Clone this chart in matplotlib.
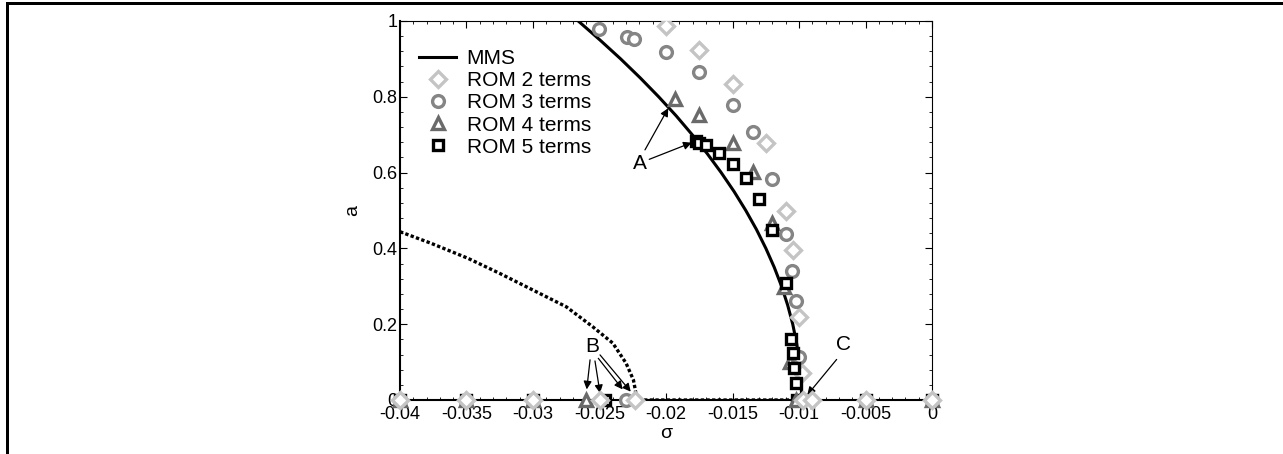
import numpy as np
import matplotlib
matplotlib.use('Agg')
import matplotlib.pyplot as plt
from matplotlib.lines import Line2D
from matplotlib.ticker import MultipleLocator

plt.rcParams['font.family'] = ['Liberation Sans', 'DejaVu Sans']

# MMS backbone (solid, stable)
mms_sigma = [-0.0098, -0.00984, -0.00997, -0.01018, -0.01047, -0.01085, -0.01131, -0.01186,
             -0.01249, -0.01320, -0.01400, -0.01488, -0.01585, -0.01690, -0.01803,
             -0.01924, -0.02055, -0.02194, -0.02341, -0.02497, -0.02660]
mms_a = [0.0, 0.05, 0.1, 0.15, 0.2, 0.25, 0.3, 0.35, 0.4, 0.45, 0.5, 0.55, 0.6, 0.65,
         0.7, 0.75, 0.8, 0.85, 0.9, 0.95, 1.0]

# unstable branch (dotted)
unst_sigma = [-0.0400, -0.0377, -0.0349, -0.0325, -0.0300, -0.0275, -0.0255, -0.0240,
              -0.0230, -0.02245, -0.0223, -0.0222, -0.0160, -0.0098]
unst_a = [0.444, 0.414, 0.374, 0.334, 0.290, 0.246, 0.193, 0.150, 0.097, 0.053, 0.025,
          0.0, 0.0, 0.0]

# ROM results
rom2_sigma = [-0.0200, -0.0175, -0.01498, -0.01248, -0.01098, -0.01047, -0.00998, -0.0098]
rom2_a = [0.987, 0.923, 0.833, 0.677, 0.499, 0.396, 0.220, 0.070]
rom3_sigma = [-0.02502, -0.02295, -0.02241, -0.0200, -0.0175, -0.01498, -0.01348, -0.01203,
              -0.01098, -0.01053, -0.01023, -0.00998]
rom3_a = [0.979, 0.959, 0.952, 0.917, 0.865, 0.779, 0.706, 0.582, 0.438, 0.340, 0.261, 0.114]
rom4_sigma = [-0.01932, -0.0175, -0.01498, -0.01343, -0.01203, -0.01113, -0.01071]
rom4_a = [0.794, 0.752, 0.677, 0.601, 0.468, 0.298, 0.101]
rom5_sigma = [-0.01774, -0.0175, -0.01699, -0.01599, -0.01498, -0.01398, -0.01298, -0.01203,
              -0.01098, -0.0106, -0.01047, -0.01035, -0.01023]
rom5_a = [0.684, 0.679, 0.673, 0.651, 0.623, 0.587, 0.530, 0.449, 0.309, 0.161, 0.123,
          0.085, 0.044]

# points lying on a = 0
zero_common = [-0.04, -0.035, -0.03, -0.005, 0.0]
rom2_zero = zero_common + [-0.0250, -0.02233, -0.0097, -0.00905]
rom3_zero = zero_common + [-0.0230]
rom4_zero = zero_common + [-0.0260, -0.01023]
rom5_zero = zero_common + [-0.0246, -0.01017]

c2, c3, c4, c5 = '#c4c4c4', '#858585', '#6a6a6a', '#000000'
mk = dict(linestyle='none', markerfacecolor='white', markeredgewidth=2.4)

fig = plt.figure(figsize=(12.83, 4.54), dpi=100)
ax = fig.add_axes([400 / 1283, 1 - 400 / 454, 532 / 1283, 379 / 454])

ax.plot(mms_sigma, mms_a, color='black', lw=2.2, label='MMS', zorder=3)
ax.plot(unst_sigma, unst_a, color='black', lw=2.4, linestyle=(0, (1, 0.7)), zorder=3)

ax.plot(rom2_sigma, rom2_a, marker='D', ms=8, color=c2, label='ROM 2 terms', zorder=4, **mk)
ax.plot(rom3_sigma, rom3_a, marker='o', ms=8.5, color=c3, label='ROM 3 terms', zorder=4, **mk)
ax.plot(rom4_sigma, rom4_a, marker='^', ms=9, color=c4, label='ROM 4 terms', zorder=4, **mk)
ax.plot(rom5_sigma, rom5_a, marker='s', ms=7.5, color=c5, label='ROM 5 terms', zorder=5, **mk)

zeros_kw = dict(clip_on=False, **mk)
ax.plot(rom5_zero, np.zeros(len(rom5_zero)), marker='s', ms=7.5, color=c5, zorder=6, **zeros_kw)
ax.plot(rom4_zero, np.zeros(len(rom4_zero)), marker='^', ms=9, color=c4, zorder=6, **zeros_kw)
ax.plot(rom3_zero, np.zeros(len(rom3_zero)), marker='o', ms=8.5, color=c3, zorder=6, **zeros_kw)
ax.plot(rom2_zero, np.zeros(len(rom2_zero)), marker='D', ms=8, color=c2, zorder=7, **zeros_kw)

# annotations
arr = dict(arrowstyle='-|>', color='black', lw=0.9, mutation_scale=12, shrinkA=0, shrinkB=0)
ax.text(-0.02195, 0.625, 'A', fontsize=15, ha='center', va='center')
ax.annotate('', xy=(-0.01983, 0.770), xytext=(-0.02158, 0.660), arrowprops=arr)
ax.annotate('', xy=(-0.01807, 0.679), xytext=(-0.02126, 0.635), arrowprops=arr)

ax.text(-0.02554, 0.140, 'B', fontsize=15, ha='center', va='center')
for tx, ty, hx, hy in [(-0.02571, 0.106, -0.02596, 0.028), (-0.02534, 0.103, -0.02496, 0.018),
                       (-0.02509, 0.110, -0.02326, 0.028), (-0.02496, 0.119, -0.02265, 0.022)]:
    ax.annotate('', xy=(hx, hy), xytext=(tx, ty), arrowprops=arr)

ax.text(-0.00667, 0.146, 'C', fontsize=15, ha='center', va='center')
ax.annotate('', xy=(-0.00938, 0.013), xytext=(-0.00717, 0.107), arrowprops=arr)

ax.set_xlim(-0.04, 0)
ax.set_ylim(0, 1)
ax.xaxis.set_minor_locator(MultipleLocator(0.001))
ax.yaxis.set_minor_locator(MultipleLocator(0.04))
ax.set_xticks([-0.04, -0.035, -0.03, -0.025, -0.02, -0.015, -0.01, -0.005, 0])
ax.set_xticklabels(['-0.04', '-0.035', '-0.03', '-0.025', '-0.02', '-0.015', '-0.01', '-0.005', '0'])
ax.set_yticks([0, 0.2, 0.4, 0.6, 0.8, 1])
ax.set_yticklabels(['0', '0.2', '0.4', '0.6', '0.8', '1'])
ax.tick_params(which='both', direction='in', top=True, right=True, labelsize=13)
ax.tick_params(axis='x', pad=4)
ax.tick_params(axis='y', pad=2)
ax.tick_params(which='major', length=5, width=0.8)
ax.tick_params(which='minor', length=2.5, width=0.6)
for s in ['left', 'bottom']:
    ax.spines[s].set_linewidth(1.5)
for s in ['top', 'right']:
    ax.spines[s].set_linewidth(0.8)

ax.set_xlabel('σ', fontsize=14, labelpad=2)
ax.set_ylabel('a', fontsize=14, labelpad=8)

ax.legend(loc='upper left', bbox_to_anchor=(0.0, 0.975), frameon=False, fontsize=15,
          handlelength=1.8, handletextpad=0.5, labelspacing=0.15, borderaxespad=0.5)

# outer frame (left and top edges visible)
lw_px = 3 * 72 / 100
fig.add_artist(Line2D([7 / 1283, 7 / 1283], [0, 1 - 3 / 454], color='black', lw=lw_px))
fig.add_artist(Line2D([7 / 1283, 1], [1 - 3 / 454, 1 - 3 / 454], color='black', lw=lw_px))

fig.savefig('out.png', dpi=100)
